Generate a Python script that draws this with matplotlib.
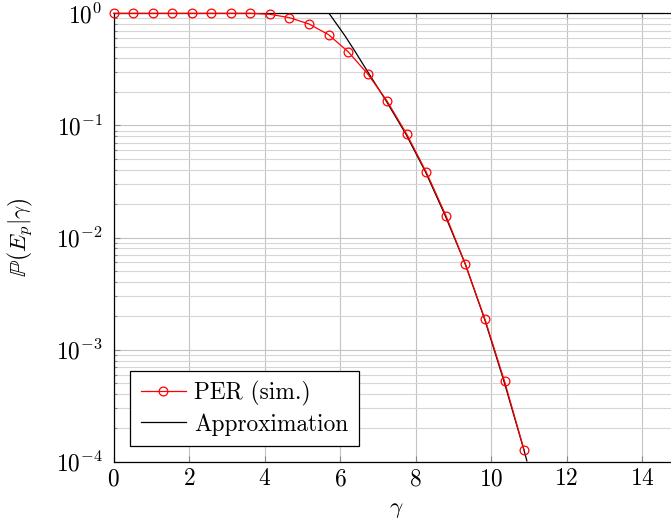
import matplotlib
matplotlib.use("Agg")
import matplotlib.pyplot as plt
from matplotlib.ticker import LogLocator, NullFormatter, FixedLocator

plt.rcParams['mathtext.fontset'] = 'cm'
plt.rcParams['font.family'] = ['cmr10', 'DejaVu Serif']
plt.rcParams['axes.formatter.use_mathtext'] = True

# PER simulation points
per_x = [0.0, 0.518, 1.036, 1.554, 2.072, 2.590, 3.108, 3.626, 4.144, 4.662,
         5.180, 5.698, 6.216, 6.734, 7.252, 7.770, 8.288, 8.806, 9.324, 9.842,
         10.360, 10.878]
per_y = [1.0, 1.0, 1.0, 1.0, 1.0, 1.0, 1.0, 1.0, 0.98, 0.914,
         0.803, 0.644, 0.454, 0.288, 0.164, 0.0833, 0.0382, 0.0157, 0.00576, 0.00186,
         0.000521, 0.000127]

# Approximation curve
apx_x = [5.50, 5.709, 6.13, 6.38, 6.75, 7.22, 7.75, 8.27, 8.79, 9.32,
         9.833, 10.344, 10.874, 10.95]
apx_y = [1.26, 1.0, 0.631, 0.468, 0.295, 0.166, 0.0832, 0.0382, 0.0156, 0.00577,
         0.00186, 0.000521, 0.000127, 0.000102]

xticks = [0, 2, 4, 6, 8, 10, 12, 14]

FS = 16.8

fig = plt.figure(figsize=(6.71, 5.22), dpi=100)
ax = fig.add_axes([113.5 / 671, (522 - 461.8) / 522, 566.25 / 671, 448.5 / 522])

ax.plot(per_x, per_y, color='red', lw=0.9, marker='o', ms=6.3, mfc='none',
        mec='red', mew=0.9, label='PER (sim.)', zorder=4, clip_on=False)
ax.plot(apx_x, apx_y, color='black', lw=0.9, label='Approximation', zorder=3)

ax.set_yscale('log')
ax.set_xlim(0, 15)
ax.set_ylim(1e-4, 1)
ax.xaxis.set_major_locator(FixedLocator(xticks))
ax.yaxis.set_major_locator(LogLocator(base=10, numticks=10))
ax.yaxis.set_minor_locator(LogLocator(base=10, subs=range(2, 10), numticks=100))
ax.yaxis.set_minor_formatter(NullFormatter())

ax.grid(True, which='major', axis='both', color='#c4c4c4', lw=0.8)
ax.grid(True, which='minor', axis='y', color='#d6d6d6', lw=0.8)
ax.set_axisbelow(True)

ax.tick_params(which='major', direction='in', length=4, width=0.8, color='#888888',
               labelsize=FS, top=True, right=True)
ax.tick_params(axis='y', which='major', pad=8)
ax.tick_params(axis='x', which='major', pad=4.5)
ax.tick_params(which='minor', direction='in', length=2.5, width=0.8, color='#888888',
               top=False, right=True)
for s in ax.spines.values():
    s.set_linewidth(0.9)

ax.set_xlabel(r'$\gamma$', fontsize=FS)
ax.set_ylabel(r'$\mathbb{P}(E_p|\gamma)$', fontsize=FS)
ax.xaxis.set_label_coords(0.5, -0.081)
ax.yaxis.set_label_coords(-0.139, 0.5)

leg = ax.legend(loc='lower left', bbox_to_anchor=(0.03, 0.035), fontsize=FS,
                frameon=True, fancybox=False, edgecolor='black', framealpha=1,
                handlelength=1.92, borderpad=0.45, labelspacing=0.3, handletextpad=0.37,
                borderaxespad=0)
leg.get_frame().set_linewidth(0.9)

fig.savefig('out.png', dpi=100)
